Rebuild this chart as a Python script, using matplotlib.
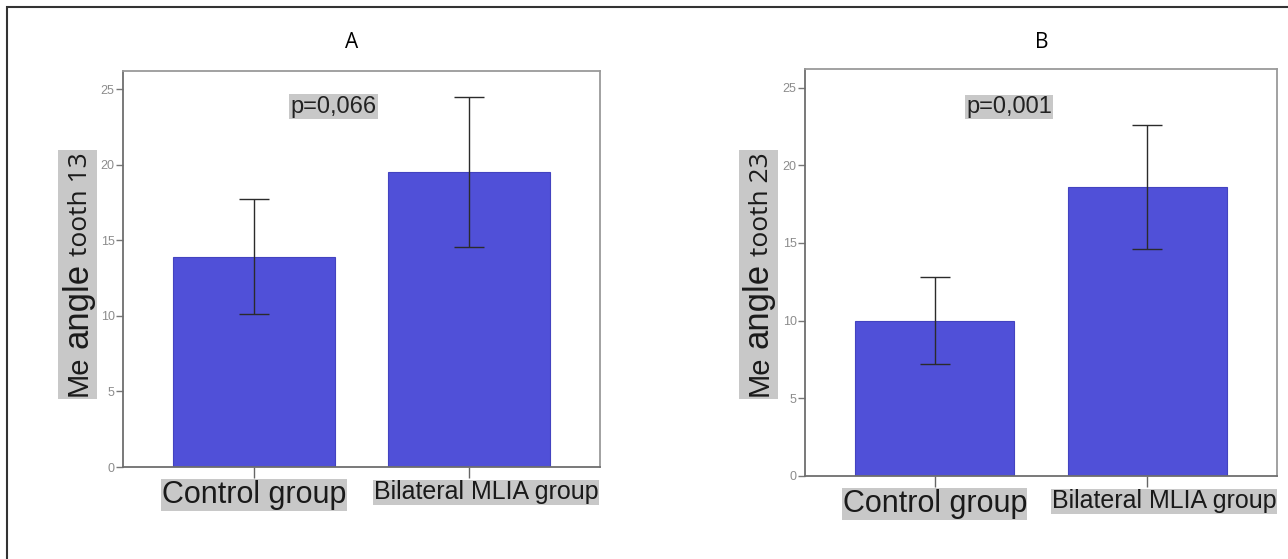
import matplotlib
matplotlib.use("Agg")
import matplotlib.pyplot as plt
from matplotlib.patches import Rectangle

W, H, DPI = 1288, 559, 100

groups = ["Control group", "Bilateral MLIA group"]
tooth13_mean = [13.9, 19.5]
tooth13_err = [3.8, 4.95]
tooth23_mean = [10.0, 18.6]
tooth23_err = [2.8, 4.0]
panel_titles = ["A", "B"]
p_labels = ["p=0,066", "p=0,001"]
y_names = ["tooth 13", "tooth 23"]
yticks = [0, 5, 10, 15, 20, 25]

BAR = "#5050d8"
LABEL_BG = "#c8c8c8"
SANS = ["Liberation Sans", "DejaVu Sans"]
ROUND = ["Open Sans", "DejaVu Sans"]


def px(v):
    # pixels -> points at 100 dpi
    return v * 72.0 / DPI


def axes_px(fig, left, top, right, bottom):
    return fig.add_axes([left / W, 1 - bottom / H, (right - left) / W, (bottom - top) / H])


def bar_panel(ax, means, errs, p_text, p_pos):
    x = range(len(groups))
    ax.bar(x, means, width=0.75, color=BAR, edgecolor="#4343c0", linewidth=0.8, zorder=2)
    ax.errorbar(x, means, yerr=errs, fmt="none", ecolor="#2b2b2b", elinewidth=1,
                capsize=11, capthick=1, zorder=3)
    ax.set_xlim(-0.61, 1.61)
    ax.set_ylim(0, 26.2)
    ax.set_yticks(yticks)
    ax.set_yticklabels([str(t) for t in yticks], fontsize=9, color="#8c8c8c", family=SANS)
    ax.set_xticks(list(x))
    ax.set_xticklabels([])
    ax.tick_params(axis="y", length=5, width=1, color="#777777", pad=1)
    ax.tick_params(axis="x", length=8, width=1, color="#666666")
    for side in ["left", "bottom"]:
        ax.spines[side].set_color("#6e6e6e")
        ax.spines[side].set_linewidth(1.3)
    for side in ["top", "right"]:
        ax.spines[side].set_color("#9a9a9a")
        ax.spines[side].set_linewidth(1.3)

    # group names in grey boxes under the axis
    sizes = [22, 18]
    shifts = [0, 17]
    for i, name in enumerate(groups):
        ax.annotate(name, xy=(i, 0), xycoords=("data", "axes fraction"),
                    xytext=(px(shifts[i]), -px(13)), textcoords="offset points",
                    ha="center", va="top", fontsize=sizes[i], family=SANS, color="#1a1a1a",
                    bbox=dict(boxstyle="square,pad=0.02", fc=LABEL_BG, ec="none"),
                    annotation_clip=False)

    ax.text(p_pos[0], p_pos[1], p_text, ha="center", va="center", fontsize=17,
            family=SANS, color="#222222",
            bbox=dict(boxstyle="square,pad=0.05", fc=LABEL_BG, ec="none"))


def stacked_ylabel(fig, ax, x_px, y_px, parts):
    # rotated label made of pieces with different fonts, chained bottom to top
    texts = []
    x_fig = x_px / W
    for i, (txt, size, fam) in enumerate(parts):
        if i == 0:
            t = ax.annotate(txt, xy=(x_fig, 1 - y_px / H), xycoords="figure fraction",
                            rotation=90, rotation_mode="anchor", ha="left", va="baseline",
                            fontsize=size, family=fam, color="#1a1a1a",
                            annotation_clip=False, zorder=5)
        else:
            t = ax.annotate(txt, xy=(x_fig, 1.0), xycoords=("figure fraction", texts[-1]),
                            xytext=(0, px(7)), textcoords="offset points",
                            rotation=90, rotation_mode="anchor", ha="left", va="baseline",
                            fontsize=size, family=fam, color="#1a1a1a",
                            annotation_clip=False, zorder=5)
        texts.append(t)
    return texts


fig = plt.figure(figsize=(W / DPI, H / DPI), dpi=DPI)
fig.patch.set_facecolor("white")

# frame around the figure (only top and left edges fall inside the canvas)
fig.add_artist(Rectangle((7 / W, -0.1), 1.2, 1 - 7 / H + 0.1, transform=fig.transFigure,
                         fill=False, ec="#333333", lw=1.5))

ax_a = axes_px(fig, 123, 71, 600, 467)
ax_b = axes_px(fig, 805, 69, 1277, 476)

bar_panel(ax_a, tooth13_mean, tooth13_err, p_labels[0], (0.37, 23.85))
bar_panel(ax_b, tooth23_mean, tooth23_err, p_labels[1], (0.35, 23.75))

fig.text(352 / W, 1 - 43 / H, panel_titles[0], ha="center", va="center", fontsize=15, family=ROUND)
fig.text(1042 / W, 1 - 43 / H, panel_titles[1], ha="center", va="center", fontsize=15, family=ROUND)

labels = []
for ax, x0, name in [(ax_a, 87, y_names[0]), (ax_b, 768, y_names[1])]:
    labels.append(stacked_ylabel(fig, ax, x0, 396,
                                 [("Me", 21, SANS), ("angle", 25, SANS), (name, 19, ROUND)]))

# grey backdrop behind each stacked label
fig.canvas.draw()
renderer = fig.canvas.get_renderer()
for texts in labels:
    boxes = [t.get_window_extent(renderer) for t in texts]
    x0 = min(b.x0 for b in boxes) - 3
    x1 = max(b.x1 for b in boxes) + 3
    y0 = min(b.y0 for b in boxes) - 3
    y1 = max(b.y1 for b in boxes) + 3
    fig.add_artist(Rectangle((x0 / W, y0 / H), (x1 - x0) / W, (y1 - y0) / H,
                             transform=fig.transFigure, fc=LABEL_BG, ec="none", zorder=0))

fig.savefig("out.png", dpi=DPI)
